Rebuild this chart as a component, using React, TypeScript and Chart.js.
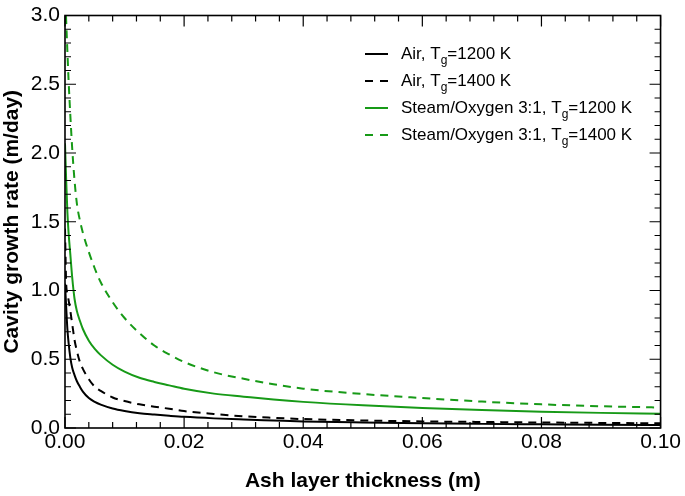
import React, { useEffect, useRef } from "react";
import { Chart, registerables } from "chart.js";

Chart.register(...registerables);

const xs = [0, 0.0002, 0.0004, 0.0006, 0.0009, 0.0012, 0.0016, 0.002, 0.0025, 0.003, 0.004, 0.005, 0.006, 0.008, 0.01, 0.0125, 0.015, 0.0175, 0.02, 0.025, 0.03, 0.035, 0.04, 0.05, 0.06, 0.07, 0.08, 0.09, 0.1];

const air1200 = [1.05, 0.88, 0.72, 0.62, 0.51, 0.44, 0.385, 0.34, 0.3, 0.265, 0.218, 0.19, 0.17, 0.142, 0.124, 0.108, 0.098, 0.089, 0.081, 0.07, 0.062, 0.055, 0.048, 0.04, 0.034, 0.03, 0.027, 0.024, 0.022];
const air1400 = [1.45, 1.05, 0.98, 0.93, 0.85, 0.76, 0.64, 0.56, 0.48, 0.43, 0.355, 0.3, 0.27, 0.222, 0.196, 0.172, 0.155, 0.14, 0.123, 0.102, 0.085, 0.074, 0.065, 0.055, 0.048, 0.044, 0.04, 0.037, 0.034];
const so1200 = [2.07, 1.8, 1.57, 1.42, 1.26, 1.1, 0.94, 0.85, 0.78, 0.72, 0.635, 0.575, 0.53, 0.46, 0.41, 0.365, 0.335, 0.31, 0.285, 0.25, 0.228, 0.207, 0.19, 0.165, 0.146, 0.131, 0.119, 0.11, 0.103];
const so1400 = [3.2, 2.96, 2.74, 2.53, 2.27, 2.04, 1.8, 1.63, 1.51, 1.42, 1.28, 1.16, 1.06, 0.915, 0.8, 0.69, 0.6, 0.535, 0.48, 0.405, 0.358, 0.318, 0.286, 0.247, 0.218, 0.192, 0.172, 0.158, 0.149];

const legendMain = ["Air, T", "Air, T", "Steam/Oxygen 3:1, T", "Steam/Oxygen 3:1, T"];
const legendSub = ["g", "g", "g", "g"];
const legendTail = ["=1200 K", "=1400 K", "=1200 K", "=1400 K"];

const xMin = 0, xMax = 0.1, xStep = 0.02, xMinorStep = 0.004;
const yMin = 0, yMax = 3, yStep = 0.5, yMinorStep = 0.1;

const GREEN = "#179a17";
const BLACK = "#000000";
const FONT = "'Liberation Sans', Arial, sans-serif";

const seriesDefs = [
  { values: air1200, color: BLACK, dash: [] as number[] },
  { values: air1400, color: BLACK, dash: [8, 6] },
  { values: so1200, color: GREEN, dash: [] as number[] },
  { values: so1400, color: GREEN, dash: [8, 6] },
];

const framePlugin = {
  id: "frameTicks",
  afterDraw(chart: any) {
    const { ctx, chartArea, scales } = chart;
    const { left, right, top, bottom } = chartArea;
    const x = scales.x, y = scales.y;
    ctx.save();
    ctx.strokeStyle = "#000";
    ctx.lineWidth = 1.6;
    ctx.setLineDash([]);
    ctx.strokeRect(left, top, right - left, bottom - top);
    ctx.lineWidth = 1.2;
    const nx = Math.round((xMax - xMin) / xMinorStep);
    for (let i = 0; i <= nx; i++) {
      const v = xMin + i * xMinorStep;
      const p = x.getPixelForValue(v);
      const L = i % 5 === 0 ? 11 : 6;
      ctx.beginPath();
      ctx.moveTo(p, bottom); ctx.lineTo(p, bottom - L);
      ctx.moveTo(p, top); ctx.lineTo(p, top + L);
      ctx.stroke();
    }
    const ny = Math.round((yMax - yMin) / yMinorStep);
    for (let i = 0; i <= ny; i++) {
      const v = yMin + i * yMinorStep;
      const p = y.getPixelForValue(v);
      const L = i % 5 === 0 ? 11 : 6;
      ctx.beginPath();
      ctx.moveTo(left, p); ctx.lineTo(left + L, p);
      ctx.moveTo(right, p); ctx.lineTo(right - L, p);
      ctx.stroke();
    }
    // legend
    const lx0 = 365, lx1 = 388, tx = 401;
    const rows = [54, 81, 108, 135];
    seriesDefs.forEach((s, i) => {
      const ry = rows[i];
      ctx.strokeStyle = s.color;
      ctx.lineWidth = 2;
      ctx.setLineDash(s.dash.length ? [8, 7] : []);
      ctx.beginPath();
      ctx.moveTo(lx0, ry); ctx.lineTo(lx1, ry);
      ctx.stroke();
      ctx.setLineDash([]);
      ctx.fillStyle = "#000";
      ctx.textBaseline = "middle";
      ctx.textAlign = "left";
      ctx.font = `17px ${FONT}`;
      ctx.fillText(legendMain[i], tx, ry);
      let cx = tx + ctx.measureText(legendMain[i]).width;
      ctx.font = `12px ${FONT}`;
      ctx.fillText(legendSub[i], cx, ry + 7);
      cx += ctx.measureText(legendSub[i]).width;
      ctx.font = `17px ${FONT}`;
      ctx.fillText(legendTail[i], cx, ry);
    });
    ctx.restore();
  },
};

export default function App() {
  const ref = useRef<HTMLCanvasElement>(null);
  useEffect(() => {
    if (!ref.current) return;
    const chart = new Chart(ref.current, {
      type: "line",
      data: {
        datasets: seriesDefs.map((s) => ({
          data: xs.map((xv, i) => ({ x: xv, y: s.values[i] })),
          borderColor: s.color,
          borderWidth: 2,
          borderDash: s.dash,
          pointRadius: 0,
          fill: false,
          cubicInterpolationMode: "monotone" as const,
          clip: 0,
        })),
      },
      options: {
        animation: false,
        responsive: false,
        layout: { padding: { top: 11, right: 23, left: 0, bottom: 0 } },
        plugins: { legend: { display: false }, tooltip: { enabled: false } },
        scales: {
          x: {
            type: "linear",
            min: xMin,
            max: xMax,
            grid: { display: false, drawTicks: false },
            border: { display: false },
            ticks: {
              stepSize: xStep,
              padding: 4,
              color: "#000",
              font: { family: FONT, size: 21, lineHeight: 1 },
              callback: (v: any) => Number(v).toFixed(2),
            },
            title: {
              display: true,
              text: "Ash layer thickness (m)",
              color: "#000",
              font: { family: FONT, size: 21, weight: "bold" },
              padding: { top: 0, bottom: 2 },
            },
            afterFit: (s: any) => { s.height = 68; },
          },
          y: {
            type: "linear",
            min: yMin,
            max: yMax,
            grid: { display: false, drawTicks: false },
            border: { display: false },
            ticks: {
              stepSize: yStep,
              padding: 5,
              color: "#000",
              font: { family: FONT, size: 21, lineHeight: 1 },
              callback: (v: any) => Number(v).toFixed(1),
            },
            title: {
              display: true,
              text: "Cavity growth rate (m/day)",
              color: "#000",
              font: { family: FONT, size: 21, weight: "bold" },
              padding: { top: 0, bottom: 0 },
            },
            afterFit: (s: any) => { s.width = 65; },
          },
        },
      },
      plugins: [framePlugin],
    } as any);
    return () => chart.destroy();
  }, []);
  return (
    <div style={{ position: "absolute", left: 0, top: 0, width: 685, height: 496, background: "#fff" }}>
      <canvas ref={ref} width={685} height={496} />
    </div>
  );
}
